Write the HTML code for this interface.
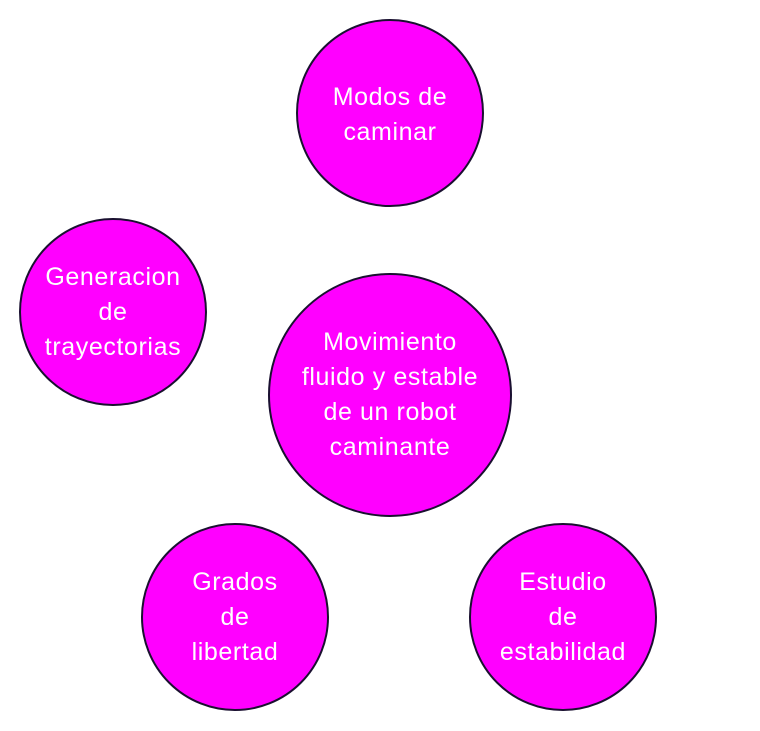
<!DOCTYPE html>
<html><head><meta charset="utf-8"><style>
body{margin:0;width:760px;height:731px;background:#fff;overflow:hidden;position:relative;font-family:"Liberation Sans",sans-serif}
.c{position:absolute;border-radius:50%;background:#ff00ff;border:2px solid #1a1030;box-sizing:border-box;display:flex;align-items:center;justify-content:center;text-align:center;color:#fff;font-size:25px;letter-spacing:0.6px;line-height:35px}
</style></head><body>
<div class="c" style="left:296px;top:19px;width:188px;height:188px;padding-top:3px">Modos de<br>caminar</div>
<div class="c" style="left:19px;top:218px;width:188px;height:188px">Generacion<br>de<br>trayectorias</div>
<div class="c" style="left:268px;top:273px;width:244px;height:244px">Movimiento<br>fluido y estable<br>de un robot<br>caminante</div>
<div class="c" style="left:141px;top:523px;width:188px;height:188px">Grados<br>de<br>libertad</div>
<div class="c" style="left:469px;top:523px;width:188px;height:188px">Estudio<br>de<br>estabilidad</div>
</body></html>
